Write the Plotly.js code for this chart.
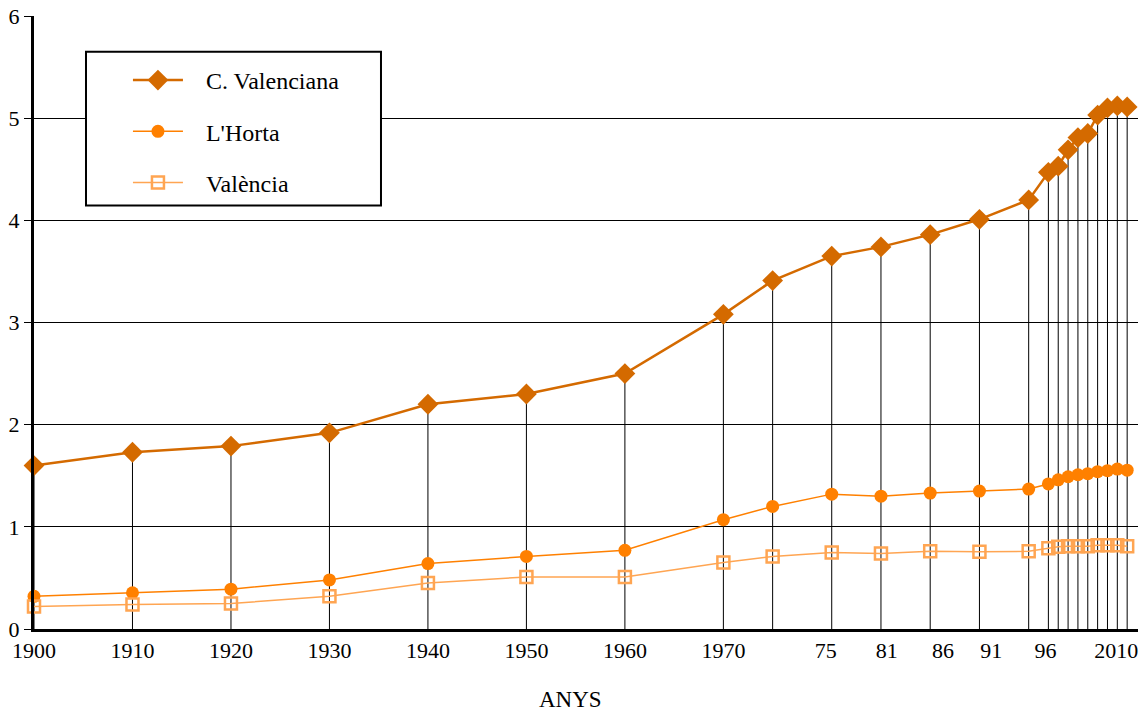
<!DOCTYPE html>
<html>
<head>
<meta charset="utf-8">
<script src="https://cdn.plot.ly/plotly-3.0.1.min.js"></script>
<style>html,body{margin:0;padding:0;background:#fff;}#chart{width:1148px;height:711px;}</style>
</head>
<body>
<div id="chart"></div>
<script>
// Years of each observation
var years = [1900, 1910, 1920, 1930, 1940, 1950, 1960, 1970, 1975, 1981, 1986, 1991, 1996, 2001,
             2003, 2004, 2005, 2006, 2007, 2008, 2009, 2010, 2011];
// Series values (millions)
var cValenciana = [1.60, 1.73, 1.79, 1.92, 2.20, 2.30, 2.50, 3.08, 3.41, 3.65, 3.74, 3.86, 4.01, 4.20,
                   4.47, 4.53, 4.69, 4.81, 4.85, 5.03, 5.10, 5.12, 5.11];
var lHorta = [0.32, 0.355, 0.39, 0.48, 0.64, 0.71, 0.77, 1.07, 1.20, 1.32, 1.30, 1.33, 1.35, 1.37,
              1.42, 1.46, 1.49, 1.51, 1.52, 1.54, 1.55, 1.565, 1.555];
var valencia = [0.22, 0.24, 0.25, 0.32, 0.45, 0.51, 0.51, 0.65, 0.71, 0.75, 0.74, 0.76, 0.755, 0.76,
                0.79, 0.805, 0.81, 0.81, 0.81, 0.82, 0.82, 0.82, 0.81];
// Tick labels as printed on the original axis
var tickYears = [1900, 1910, 1920, 1930, 1940, 1950, 1960, 1970, 1980.4, 1986.6, 1992.3, 1997.2, 2002.7, 2009.9];
var tickLabels = ['1900', '1910', '1920', '1930', '1940', '1950', '1960', '1970', '75', '81', '86', '91', '96', '2010'];
var seriesNames = ['C. Valenciana', "L'Horta", 'València'];
var xTitle = 'ANYS';

var FONT = 'Liberation Serif, Times New Roman, serif';
var PAD = '\u00A0\u00A0\u00A0';
var zeros = years.map(function () { return 0; });

var traces = [
  { // vertical drop lines from the axis up to each C. Valenciana point
    x: years, y: cValenciana, type: 'scatter', mode: 'markers',
    marker: {size: 1, opacity: 0}, showlegend: false, hoverinfo: 'skip',
    error_y: {type: 'data', symmetric: false, array: zeros, arrayminus: cValenciana,
              width: 0, thickness: 1, color: '#000'}
  },
  {
    x: years, y: cValenciana, name: PAD + seriesNames[0], type: 'scatter', mode: 'lines+markers',
    legendgroup: 'a', cliponaxis: false,
    line: {color: '#D46A00', width: 2.5},
    marker: {symbol: 'diamond', size: 16, color: '#D46A00'}
  },
  {
    x: years, y: lHorta, name: PAD + seriesNames[1], type: 'scatter', mode: 'lines+markers',
    legendgroup: 'b', cliponaxis: false,
    line: {color: '#FF8000', width: 1.5},
    marker: {symbol: 'circle', size: 13, color: '#FF8000'}
  },
  {
    x: years, y: valencia, name: PAD + seriesNames[2], type: 'scatter', mode: 'lines+markers',
    legendgroup: 'c', cliponaxis: false,
    line: {color: '#FFA552', width: 1.5},
    marker: {symbol: 'square-open', size: 12, color: '#FFA552', line: {width: 2.5, color: '#FFA552'}}
  }
];

var layout = {
  width: 1148, height: 711,
  margin: {l: 34, r: 10, t: 16, b: 82},
  paper_bgcolor: '#fff', plot_bgcolor: '#fff',
  font: {family: FONT, size: 22, color: '#000'},
  showlegend: true,
  legend: {
    x: 0.0851, y: 0.9315, xanchor: 'left', yanchor: 'top',
    bgcolor: 'rgba(0,0,0,0)', borderwidth: 0,
    traceorder: 'grouped', tracegroupgap: 17, itemwidth: 50,
    font: {family: FONT, size: 24, color: '#000'}
  },
  xaxis: {
    type: 'linear', range: [1900, 2012.1],
    tickmode: 'array', tickvals: tickYears, ticktext: tickLabels,
    showgrid: false, zeroline: false,
    showline: true, linecolor: '#000', linewidth: 3,
    ticks: '', tickfont: {family: FONT, size: 22, color: '#000'}
  },
  yaxis: {
    range: [0, 6], tickvals: [0, 1, 2, 3, 4, 5, 6],
    showgrid: true, gridcolor: '#000', gridwidth: 1, zeroline: false,
    showline: true, linecolor: '#000', linewidth: 3,
    ticks: 'outside', ticklen: 7, tickcolor: '#000', tickwidth: 1,
    tickfont: {family: FONT, size: 22, color: '#000'}
  },
  annotations: [{
    text: xTitle, xref: 'paper', yref: 'paper', x: 0.4864, y: -0.115,
    xanchor: 'center', yanchor: 'middle', showarrow: false,
    font: {family: FONT, size: 23, color: '#000'}
  }],
  shapes: [{
    type: 'rect', xref: 'paper', yref: 'paper',
    x0: 0.0471, x1: 0.3143, y0: 0.6908, y1: 0.9418,
    line: {color: '#000', width: 2}, fillcolor: '#fff', layer: 'above'
  }]
};

Plotly.newPlot('chart', traces, layout, {displayModeBar: false, staticPlot: true});
</script>
</body>
</html>
